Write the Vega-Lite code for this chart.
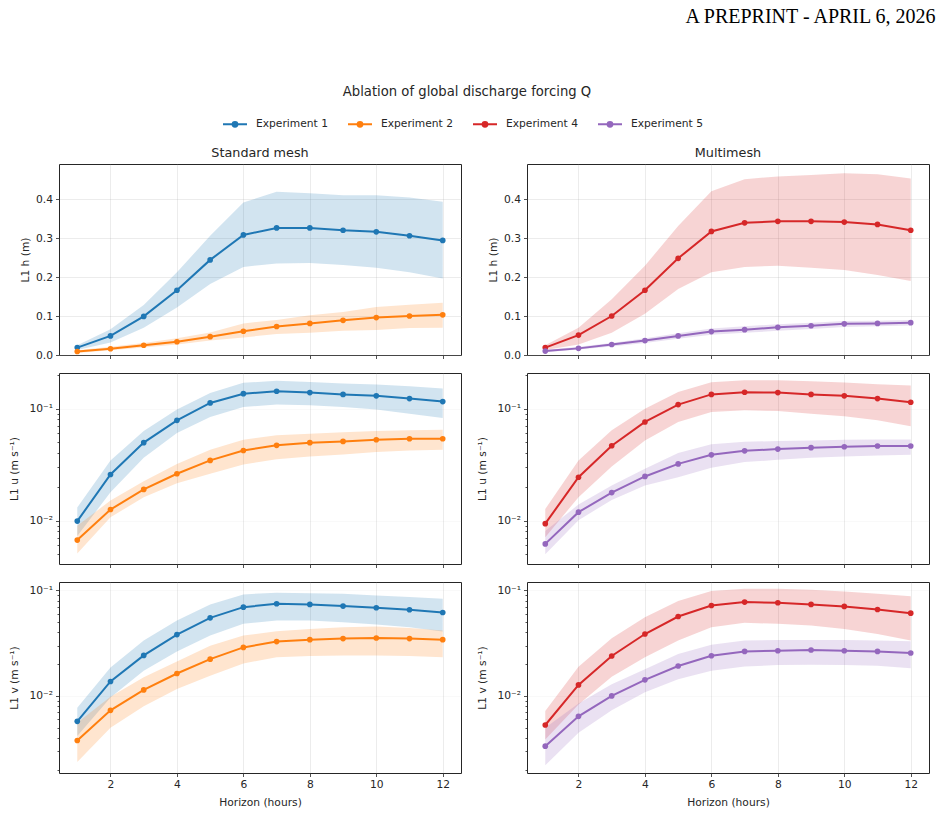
{
  "$schema": "https://vega.github.io/schema/vega-lite/v6.json",
  "padding": {"left": 8, "top": 6, "right": 0, "bottom": 0},
  "datasets": {
    "runs": [
      {"v":"h","exp":"Experiment 1","t":1,"m":0.019,"lo":0.013,"hi":0.025},
      {"v":"h","exp":"Experiment 1","t":2,"m":0.049,"lo":0.032,"hi":0.066},
      {"v":"h","exp":"Experiment 1","t":3,"m":0.099,"lo":0.070,"hi":0.128},
      {"v":"h","exp":"Experiment 1","t":4,"m":0.166,"lo":0.122,"hi":0.212},
      {"v":"h","exp":"Experiment 1","t":5,"m":0.244,"lo":0.182,"hi":0.306},
      {"v":"h","exp":"Experiment 1","t":6,"m":0.308,"lo":0.226,"hi":0.391},
      {"v":"h","exp":"Experiment 1","t":7,"m":0.326,"lo":0.235,"hi":0.419},
      {"v":"h","exp":"Experiment 1","t":8,"m":0.326,"lo":0.236,"hi":0.415},
      {"v":"h","exp":"Experiment 1","t":9,"m":0.320,"lo":0.231,"hi":0.410},
      {"v":"h","exp":"Experiment 1","t":10,"m":0.316,"lo":0.224,"hi":0.410},
      {"v":"h","exp":"Experiment 1","t":11,"m":0.306,"lo":0.212,"hi":0.404},
      {"v":"h","exp":"Experiment 1","t":12,"m":0.294,"lo":0.196,"hi":0.393},
      {"v":"h","exp":"Experiment 2","t":1,"m":0.009,"lo":0.005,"hi":0.012},
      {"v":"h","exp":"Experiment 2","t":2,"m":0.016,"lo":0.012,"hi":0.021},
      {"v":"h","exp":"Experiment 2","t":3,"m":0.025,"lo":0.019,"hi":0.031},
      {"v":"h","exp":"Experiment 2","t":4,"m":0.034,"lo":0.027,"hi":0.043},
      {"v":"h","exp":"Experiment 2","t":5,"m":0.047,"lo":0.037,"hi":0.058},
      {"v":"h","exp":"Experiment 2","t":6,"m":0.061,"lo":0.045,"hi":0.081},
      {"v":"h","exp":"Experiment 2","t":7,"m":0.073,"lo":0.054,"hi":0.090},
      {"v":"h","exp":"Experiment 2","t":8,"m":0.081,"lo":0.057,"hi":0.102},
      {"v":"h","exp":"Experiment 2","t":9,"m":0.089,"lo":0.062,"hi":0.110},
      {"v":"h","exp":"Experiment 2","t":10,"m":0.096,"lo":0.064,"hi":0.123},
      {"v":"h","exp":"Experiment 2","t":11,"m":0.100,"lo":0.069,"hi":0.129},
      {"v":"h","exp":"Experiment 2","t":12,"m":0.103,"lo":0.070,"hi":0.134},
      {"v":"h","exp":"Experiment 4","t":1,"m":0.019,"lo":0.013,"hi":0.025},
      {"v":"h","exp":"Experiment 4","t":2,"m":0.051,"lo":0.027,"hi":0.070},
      {"v":"h","exp":"Experiment 4","t":3,"m":0.100,"lo":0.057,"hi":0.143},
      {"v":"h","exp":"Experiment 4","t":4,"m":0.166,"lo":0.106,"hi":0.229},
      {"v":"h","exp":"Experiment 4","t":5,"m":0.248,"lo":0.169,"hi":0.331},
      {"v":"h","exp":"Experiment 4","t":6,"m":0.317,"lo":0.212,"hi":0.420},
      {"v":"h","exp":"Experiment 4","t":7,"m":0.339,"lo":0.226,"hi":0.451},
      {"v":"h","exp":"Experiment 4","t":8,"m":0.343,"lo":0.229,"hi":0.458},
      {"v":"h","exp":"Experiment 4","t":9,"m":0.343,"lo":0.224,"hi":0.462},
      {"v":"h","exp":"Experiment 4","t":10,"m":0.341,"lo":0.218,"hi":0.466},
      {"v":"h","exp":"Experiment 4","t":11,"m":0.335,"lo":0.205,"hi":0.464},
      {"v":"h","exp":"Experiment 4","t":12,"m":0.320,"lo":0.190,"hi":0.453},
      {"v":"h","exp":"Experiment 5","t":1,"m":0.010,"lo":0.007,"hi":0.013},
      {"v":"h","exp":"Experiment 5","t":2,"m":0.017,"lo":0.014,"hi":0.021},
      {"v":"h","exp":"Experiment 5","t":3,"m":0.027,"lo":0.022,"hi":0.031},
      {"v":"h","exp":"Experiment 5","t":4,"m":0.037,"lo":0.031,"hi":0.043},
      {"v":"h","exp":"Experiment 5","t":5,"m":0.049,"lo":0.042,"hi":0.056},
      {"v":"h","exp":"Experiment 5","t":6,"m":0.060,"lo":0.052,"hi":0.068},
      {"v":"h","exp":"Experiment 5","t":7,"m":0.065,"lo":0.057,"hi":0.074},
      {"v":"h","exp":"Experiment 5","t":8,"m":0.071,"lo":0.062,"hi":0.079},
      {"v":"h","exp":"Experiment 5","t":9,"m":0.075,"lo":0.067,"hi":0.083},
      {"v":"h","exp":"Experiment 5","t":10,"m":0.080,"lo":0.072,"hi":0.087},
      {"v":"h","exp":"Experiment 5","t":11,"m":0.081,"lo":0.074,"hi":0.088},
      {"v":"h","exp":"Experiment 5","t":12,"m":0.083,"lo":0.076,"hi":0.090},
      {"v":"u","exp":"Experiment 1","t":1,"m":0.0099,"lo":0.0073,"hi":0.0131},
      {"v":"u","exp":"Experiment 1","t":2,"m":0.0258,"lo":0.0179,"hi":0.0344},
      {"v":"u","exp":"Experiment 1","t":3,"m":0.0497,"lo":0.0364,"hi":0.063},
      {"v":"u","exp":"Experiment 1","t":4,"m":0.0786,"lo":0.0605,"hi":0.098},
      {"v":"u","exp":"Experiment 1","t":5,"m":0.1124,"lo":0.0842,"hi":0.138},
      {"v":"u","exp":"Experiment 1","t":6,"m":0.136,"lo":0.1035,"hi":0.170},
      {"v":"u","exp":"Experiment 1","t":7,"m":0.143,"lo":0.1086,"hi":0.177},
      {"v":"u","exp":"Experiment 1","t":8,"m":0.139,"lo":0.107,"hi":0.173},
      {"v":"u","exp":"Experiment 1","t":9,"m":0.134,"lo":0.1035,"hi":0.1675},
      {"v":"u","exp":"Experiment 1","t":10,"m":0.130,"lo":0.098,"hi":0.164},
      {"v":"u","exp":"Experiment 1","t":11,"m":0.123,"lo":0.0902,"hi":0.158},
      {"v":"u","exp":"Experiment 1","t":12,"m":0.1156,"lo":0.0824,"hi":0.151},
      {"v":"u","exp":"Experiment 2","t":1,"m":0.0067,"lo":0.0051,"hi":0.009},
      {"v":"u","exp":"Experiment 2","t":2,"m":0.01256,"lo":0.0107,"hi":0.0151},
      {"v":"u","exp":"Experiment 2","t":3,"m":0.019,"lo":0.0162,"hi":0.0225},
      {"v":"u","exp":"Experiment 2","t":4,"m":0.0262,"lo":0.0216,"hi":0.0321},
      {"v":"u","exp":"Experiment 2","t":5,"m":0.0345,"lo":0.0262,"hi":0.043},
      {"v":"u","exp":"Experiment 2","t":6,"m":0.0423,"lo":0.0317,"hi":0.0527},
      {"v":"u","exp":"Experiment 2","t":7,"m":0.047,"lo":0.0354,"hi":0.0577},
      {"v":"u","exp":"Experiment 2","t":8,"m":0.0497,"lo":0.0374,"hi":0.0597},
      {"v":"u","exp":"Experiment 2","t":9,"m":0.051,"lo":0.039,"hi":0.0614},
      {"v":"u","exp":"Experiment 2","t":10,"m":0.0527,"lo":0.041,"hi":0.063},
      {"v":"u","exp":"Experiment 2","t":11,"m":0.0538,"lo":0.0423,"hi":0.064},
      {"v":"u","exp":"Experiment 2","t":12,"m":0.0538,"lo":0.043,"hi":0.0648},
      {"v":"u","exp":"Experiment 4","t":1,"m":0.0094,"lo":0.0071,"hi":0.0127},
      {"v":"u","exp":"Experiment 4","t":2,"m":0.0244,"lo":0.0162,"hi":0.0344},
      {"v":"u","exp":"Experiment 4","t":3,"m":0.0466,"lo":0.0305,"hi":0.064},
      {"v":"u","exp":"Experiment 4","t":4,"m":0.076,"lo":0.052,"hi":0.100},
      {"v":"u","exp":"Experiment 4","t":5,"m":0.1086,"lo":0.076,"hi":0.141},
      {"v":"u","exp":"Experiment 4","t":6,"m":0.134,"lo":0.0934,"hi":0.172},
      {"v":"u","exp":"Experiment 4","t":7,"m":0.140,"lo":0.0966,"hi":0.179},
      {"v":"u","exp":"Experiment 4","t":8,"m":0.139,"lo":0.0953,"hi":0.179},
      {"v":"u","exp":"Experiment 4","t":9,"m":0.134,"lo":0.0902,"hi":0.176},
      {"v":"u","exp":"Experiment 4","t":10,"m":0.130,"lo":0.0854,"hi":0.171},
      {"v":"u","exp":"Experiment 4","t":11,"m":0.123,"lo":0.0786,"hi":0.165},
      {"v":"u","exp":"Experiment 4","t":12,"m":0.114,"lo":0.0695,"hi":0.161},
      {"v":"u","exp":"Experiment 5","t":1,"m":0.0062,"lo":0.005,"hi":0.0081},
      {"v":"u","exp":"Experiment 5","t":2,"m":0.0119,"lo":0.0101,"hi":0.0139},
      {"v":"u","exp":"Experiment 5","t":3,"m":0.0178,"lo":0.0153,"hi":0.0206},
      {"v":"u","exp":"Experiment 5","t":4,"m":0.0248,"lo":0.0206,"hi":0.029},
      {"v":"u","exp":"Experiment 5","t":5,"m":0.0321,"lo":0.0244,"hi":0.0401},
      {"v":"u","exp":"Experiment 5","t":6,"m":0.0387,"lo":0.0297,"hi":0.048},
      {"v":"u","exp":"Experiment 5","t":7,"m":0.042,"lo":0.0333,"hi":0.0506},
      {"v":"u","exp":"Experiment 5","t":8,"m":0.0435,"lo":0.0349,"hi":0.0513},
      {"v":"u","exp":"Experiment 5","t":9,"m":0.0448,"lo":0.0364,"hi":0.052},
      {"v":"u","exp":"Experiment 5","t":10,"m":0.0457,"lo":0.0374,"hi":0.0527},
      {"v":"u","exp":"Experiment 5","t":11,"m":0.0464,"lo":0.0382,"hi":0.0531},
      {"v":"u","exp":"Experiment 5","t":12,"m":0.0464,"lo":0.0387,"hi":0.0531},
      {"v":"v","exp":"Experiment 1","t":1,"m":0.00574,"lo":0.00416,"hi":0.00774},
      {"v":"v","exp":"Experiment 1","t":2,"m":0.0137,"lo":0.00964,"hi":0.0186},
      {"v":"v","exp":"Experiment 1","t":3,"m":0.0242,"lo":0.0173,"hi":0.0334},
      {"v":"v","exp":"Experiment 1","t":4,"m":0.0381,"lo":0.0264,"hi":0.0518},
      {"v":"v","exp":"Experiment 1","t":5,"m":0.0549,"lo":0.0373,"hi":0.0736},
      {"v":"v","exp":"Experiment 1","t":6,"m":0.0693,"lo":0.0482,"hi":0.0916},
      {"v":"v","exp":"Experiment 1","t":7,"m":0.0746,"lo":0.0518,"hi":0.095},
      {"v":"v","exp":"Experiment 1","t":8,"m":0.0736,"lo":0.0518,"hi":0.094},
      {"v":"v","exp":"Experiment 1","t":9,"m":0.071,"lo":0.0499,"hi":0.093},
      {"v":"v","exp":"Experiment 1","t":10,"m":0.0684,"lo":0.0474,"hi":0.0896},
      {"v":"v","exp":"Experiment 1","t":11,"m":0.0655,"lo":0.0448,"hi":0.0864},
      {"v":"v","exp":"Experiment 1","t":12,"m":0.0617,"lo":0.0407,"hi":0.0833},
      {"v":"v","exp":"Experiment 2","t":1,"m":0.00378,"lo":0.00237,"hi":0.00557},
      {"v":"v","exp":"Experiment 2","t":2,"m":0.0073,"lo":0.005,"hi":0.0098},
      {"v":"v","exp":"Experiment 2","t":3,"m":0.0114,"lo":0.008,"hi":0.015},
      {"v":"v","exp":"Experiment 2","t":4,"m":0.0163,"lo":0.0116,"hi":0.0212},
      {"v":"v","exp":"Experiment 2","t":5,"m":0.0223,"lo":0.0155,"hi":0.0299},
      {"v":"v","exp":"Experiment 2","t":6,"m":0.0288,"lo":0.0203,"hi":0.0373},
      {"v":"v","exp":"Experiment 2","t":7,"m":0.0327,"lo":0.0232,"hi":0.041},
      {"v":"v","exp":"Experiment 2","t":8,"m":0.0341,"lo":0.0239,"hi":0.0431},
      {"v":"v","exp":"Experiment 2","t":9,"m":0.0349,"lo":0.0242,"hi":0.0448},
      {"v":"v","exp":"Experiment 2","t":10,"m":0.0354,"lo":0.0242,"hi":0.0454},
      {"v":"v","exp":"Experiment 2","t":11,"m":0.0349,"lo":0.0239,"hi":0.0441},
      {"v":"v","exp":"Experiment 2","t":12,"m":0.0341,"lo":0.0232,"hi":0.0416},
      {"v":"v","exp":"Experiment 4","t":1,"m":0.0053,"lo":0.00386,"hi":0.0072},
      {"v":"v","exp":"Experiment 4","t":2,"m":0.0127,"lo":0.0083,"hi":0.0189},
      {"v":"v","exp":"Experiment 4","t":3,"m":0.0239,"lo":0.0152,"hi":0.0351},
      {"v":"v","exp":"Experiment 4","t":4,"m":0.0386,"lo":0.0232,"hi":0.0557},
      {"v":"v","exp":"Experiment 4","t":5,"m":0.0565,"lo":0.0334,"hi":0.0791},
      {"v":"v","exp":"Experiment 4","t":6,"m":0.0719,"lo":0.0448,"hi":0.0985},
      {"v":"v","exp":"Experiment 4","t":7,"m":0.0774,"lo":0.0492,"hi":0.1037},
      {"v":"v","exp":"Experiment 4","t":8,"m":0.0763,"lo":0.0482,"hi":0.1037},
      {"v":"v","exp":"Experiment 4","t":9,"m":0.0736,"lo":0.0465,"hi":0.1015},
      {"v":"v","exp":"Experiment 4","t":10,"m":0.0705,"lo":0.0431,"hi":0.0978},
      {"v":"v","exp":"Experiment 4","t":11,"m":0.0659,"lo":0.0386,"hi":0.093},
      {"v":"v","exp":"Experiment 4","t":12,"m":0.0608,"lo":0.0334,"hi":0.0877},
      {"v":"v","exp":"Experiment 5","t":1,"m":0.00334,"lo":0.0022,"hi":0.005},
      {"v":"v","exp":"Experiment 5","t":2,"m":0.0064,"lo":0.00448,"hi":0.00845},
      {"v":"v","exp":"Experiment 5","t":3,"m":0.0100,"lo":0.0073,"hi":0.0129},
      {"v":"v","exp":"Experiment 5","t":4,"m":0.0142,"lo":0.0108,"hi":0.0179},
      {"v":"v","exp":"Experiment 5","t":5,"m":0.0192,"lo":0.0144,"hi":0.0249},
      {"v":"v","exp":"Experiment 5","t":6,"m":0.024,"lo":0.0173,"hi":0.0306},
      {"v":"v","exp":"Experiment 5","t":7,"m":0.0264,"lo":0.019,"hi":0.0334},
      {"v":"v","exp":"Experiment 5","t":8,"m":0.0268,"lo":0.0196,"hi":0.0339},
      {"v":"v","exp":"Experiment 5","t":9,"m":0.0272,"lo":0.0197,"hi":0.0339},
      {"v":"v","exp":"Experiment 5","t":10,"m":0.0268,"lo":0.0196,"hi":0.0339},
      {"v":"v","exp":"Experiment 5","t":11,"m":0.0264,"lo":0.0193,"hi":0.0334},
      {"v":"v","exp":"Experiment 5","t":12,"m":0.0255,"lo":0.0183,"hi":0.0329}
    ]
  },
  "data": {"name": "runs"},
  "title": {
    "text": "A PREPRINT - APRIL 6, 2026",
    "anchor": "end", "frame": "bounds",
    "font": "Liberation Serif", "fontSize": 20, "color": "#000000",
    "dx": 6, "offset": 58
  },
  "resolve": {"legend": {"color": "independent"}},
  "vconcat": [
    {
      "title": {
        "text": "Ablation of global discharge forcing Q",
        "anchor": "middle", "frame": "bounds", "fontSize": 13.2, "dx": -2, "offset": 12
      },
      "columns": 2,
      "spacing": {"row": 18, "column": 66},
      "bounds": "flush",
      "concat": [
        {
          "width": 402, "height": 191,
          "title": {"text": "Standard mesh", "offset": 4},
          "transform": [{"filter": {"and": [{"field": "v", "equal": "h"}, {"field": "exp", "oneOf": ["Experiment 1", "Experiment 2"]}]}}],
          "encoding": {
            "x": {"field": "t", "type": "quantitative", "scale": {"domain": [0.45, 12.55], "nice": false, "zero": false}, "axis": {"values": [2,4,6,8,10,12], "labels": false, "title": null}},
            "color": {"field": "exp", "type": "nominal", "scale": {"domain": ["Experiment 1","Experiment 2","Experiment 4","Experiment 5"], "range": ["#1f77b4","#ff7f0e","#d62728","#9467bd"]}, "legend": {"title": null, "orient": "none", "direction": "horizontal", "legendX": 163, "legendY": -53, "symbolType": "M-1,0L1,0M-0.2,0A0.2,0.2 0 1,1 0.2,0A0.2,0.2 0 1,1 -0.2,0M-0.08,0A0.08,0.08 0 1,1 0.08,0A0.08,0.08 0 1,1 -0.08,0", "symbolSize": 576, "symbolStrokeWidth": 2, "symbolOpacity": 1, "labelOffset": 8, "columnPadding": 16}}
          },
          "layer": [
            {"mark": {"type": "area", "opacity": 0.2}, "encoding": {"y": {"field": "lo", "type": "quantitative", "title": "L1 h (m)", "scale": {"domain": [0, 0.49], "nice": false, "zero": false}, "axis": {"title": "L1 h (m)", "values": [0,0.1,0.2,0.3,0.4], "format": ".1f"}}, "y2": {"field": "hi"}}},
            {"mark": {"type": "line", "strokeWidth": 2}, "encoding": {"y": {"field": "m", "type": "quantitative", "title": "L1 h (m)"}}},
            {"mark": {"type": "point", "filled": true, "size": 32, "opacity": 1}, "encoding": {"y": {"field": "m", "type": "quantitative", "title": "L1 h (m)"}}}
          ]
        },
        {
          "width": 402, "height": 191,
          "title": {"text": "Multimesh", "offset": 4},
          "transform": [{"filter": {"and": [{"field": "v", "equal": "h"}, {"field": "exp", "oneOf": ["Experiment 4", "Experiment 5"]}]}}],
          "encoding": {
            "x": {"field": "t", "type": "quantitative", "scale": {"domain": [0.45, 12.55], "nice": false, "zero": false}, "axis": {"values": [2,4,6,8,10,12], "labels": false, "title": null}},
            "color": {"field": "exp", "type": "nominal", "scale": {"domain": ["Experiment 1","Experiment 2","Experiment 4","Experiment 5"], "range": ["#1f77b4","#ff7f0e","#d62728","#9467bd"]}, "legend": {"title": null, "orient": "none", "direction": "horizontal", "legendX": 163, "legendY": -53, "symbolType": "M-1,0L1,0M-0.2,0A0.2,0.2 0 1,1 0.2,0A0.2,0.2 0 1,1 -0.2,0M-0.08,0A0.08,0.08 0 1,1 0.08,0A0.08,0.08 0 1,1 -0.08,0", "symbolSize": 576, "symbolStrokeWidth": 2, "symbolOpacity": 1, "labelOffset": 8, "columnPadding": 16}}
          },
          "layer": [
            {"mark": {"type": "area", "opacity": 0.2}, "encoding": {"y": {"field": "lo", "type": "quantitative", "title": "L1 h (m)", "scale": {"domain": [0, 0.49], "nice": false, "zero": false}, "axis": {"title": "L1 h (m)", "values": [0,0.1,0.2,0.3,0.4], "format": ".1f"}}, "y2": {"field": "hi"}}},
            {"mark": {"type": "line", "strokeWidth": 2}, "encoding": {"y": {"field": "m", "type": "quantitative", "title": "L1 h (m)"}}},
            {"mark": {"type": "point", "filled": true, "size": 32, "opacity": 1}, "encoding": {"y": {"field": "m", "type": "quantitative", "title": "L1 h (m)"}}}
          ]
        },
        {
          "width": 402, "height": 191,
          "transform": [{"filter": {"and": [{"field": "v", "equal": "u"}, {"field": "exp", "oneOf": ["Experiment 1", "Experiment 2"]}]}}],
          "encoding": {
            "x": {"field": "t", "type": "quantitative", "scale": {"domain": [0.45, 12.55], "nice": false, "zero": false}, "axis": {"values": [2,4,6,8,10,12], "labels": false, "title": null}},
            "color": {"field": "exp", "type": "nominal", "scale": {"domain": ["Experiment 1","Experiment 2","Experiment 4","Experiment 5"], "range": ["#1f77b4","#ff7f0e","#d62728","#9467bd"]}, "legend": {"title": null, "orient": "none", "direction": "horizontal", "legendX": 163, "legendY": -53, "symbolType": "M-1,0L1,0M-0.2,0A0.2,0.2 0 1,1 0.2,0A0.2,0.2 0 1,1 -0.2,0M-0.08,0A0.08,0.08 0 1,1 0.08,0A0.08,0.08 0 1,1 -0.08,0", "symbolSize": 576, "symbolStrokeWidth": 2, "symbolOpacity": 1, "labelOffset": 8, "columnPadding": 16}}
          },
          "layer": [
            {"mark": {"type": "area", "opacity": 0.2}, "encoding": {"y": {"field": "lo", "type": "quantitative", "title": "L1 u (m s⁻¹)", "scale": {"type": "log", "domain": [0.0041, 0.208], "nice": false}, "axis": {"title": "L1 u (m s⁻¹)", "titlePadding": 9, "values": [0.005,0.006,0.007,0.008,0.009,0.01,0.02,0.03,0.04,0.05,0.06,0.07,0.08,0.09,0.1,0.2], "labelExpr": "datum.value == 0.1 ? '10⁻¹' : datum.value == 0.01 ? '10⁻²' : ''", "tickSize": {"condition": {"test": "datum.value == 0.1 || datum.value == 0.01", "value": 3.5}, "value": 2}, "gridOpacity": {"condition": {"test": "datum.value == 0.1 || datum.value == 0.01", "value": 0.3}, "value": 0}}}, "y2": {"field": "hi"}}},
            {"mark": {"type": "line", "strokeWidth": 2}, "encoding": {"y": {"field": "m", "type": "quantitative", "title": "L1 u (m s⁻¹)"}}},
            {"mark": {"type": "point", "filled": true, "size": 32, "opacity": 1}, "encoding": {"y": {"field": "m", "type": "quantitative", "title": "L1 u (m s⁻¹)"}}}
          ]
        },
        {
          "width": 402, "height": 191,
          "transform": [{"filter": {"and": [{"field": "v", "equal": "u"}, {"field": "exp", "oneOf": ["Experiment 4", "Experiment 5"]}]}}],
          "encoding": {
            "x": {"field": "t", "type": "quantitative", "scale": {"domain": [0.45, 12.55], "nice": false, "zero": false}, "axis": {"values": [2,4,6,8,10,12], "labels": false, "title": null}},
            "color": {"field": "exp", "type": "nominal", "scale": {"domain": ["Experiment 1","Experiment 2","Experiment 4","Experiment 5"], "range": ["#1f77b4","#ff7f0e","#d62728","#9467bd"]}, "legend": {"title": null, "orient": "none", "direction": "horizontal", "legendX": 163, "legendY": -53, "symbolType": "M-1,0L1,0M-0.2,0A0.2,0.2 0 1,1 0.2,0A0.2,0.2 0 1,1 -0.2,0M-0.08,0A0.08,0.08 0 1,1 0.08,0A0.08,0.08 0 1,1 -0.08,0", "symbolSize": 576, "symbolStrokeWidth": 2, "symbolOpacity": 1, "labelOffset": 8, "columnPadding": 16}}
          },
          "layer": [
            {"mark": {"type": "area", "opacity": 0.2}, "encoding": {"y": {"field": "lo", "type": "quantitative", "title": "L1 u (m s⁻¹)", "scale": {"type": "log", "domain": [0.0041, 0.208], "nice": false}, "axis": {"title": "L1 u (m s⁻¹)", "titlePadding": 9, "values": [0.005,0.006,0.007,0.008,0.009,0.01,0.02,0.03,0.04,0.05,0.06,0.07,0.08,0.09,0.1,0.2], "labelExpr": "datum.value == 0.1 ? '10⁻¹' : datum.value == 0.01 ? '10⁻²' : ''", "tickSize": {"condition": {"test": "datum.value == 0.1 || datum.value == 0.01", "value": 3.5}, "value": 2}, "gridOpacity": {"condition": {"test": "datum.value == 0.1 || datum.value == 0.01", "value": 0.3}, "value": 0}}}, "y2": {"field": "hi"}}},
            {"mark": {"type": "line", "strokeWidth": 2}, "encoding": {"y": {"field": "m", "type": "quantitative", "title": "L1 u (m s⁻¹)"}}},
            {"mark": {"type": "point", "filled": true, "size": 32, "opacity": 1}, "encoding": {"y": {"field": "m", "type": "quantitative", "title": "L1 u (m s⁻¹)"}}}
          ]
        },
        {
          "width": 402, "height": 191,
          "transform": [{"filter": {"and": [{"field": "v", "equal": "v"}, {"field": "exp", "oneOf": ["Experiment 1", "Experiment 2"]}]}}],
          "encoding": {
            "x": {"field": "t", "type": "quantitative", "scale": {"domain": [0.45, 12.55], "nice": false, "zero": false}, "axis": {"values": [2,4,6,8,10,12], "title": "Horizon (hours)", "titlePadding": 8}},
            "color": {"field": "exp", "type": "nominal", "scale": {"domain": ["Experiment 1","Experiment 2","Experiment 4","Experiment 5"], "range": ["#1f77b4","#ff7f0e","#d62728","#9467bd"]}, "legend": {"title": null, "orient": "none", "direction": "horizontal", "legendX": 163, "legendY": -53, "symbolType": "M-1,0L1,0M-0.2,0A0.2,0.2 0 1,1 0.2,0A0.2,0.2 0 1,1 -0.2,0M-0.08,0A0.08,0.08 0 1,1 0.08,0A0.08,0.08 0 1,1 -0.08,0", "symbolSize": 576, "symbolStrokeWidth": 2, "symbolOpacity": 1, "labelOffset": 8, "columnPadding": 16}}
          },
          "layer": [
            {"mark": {"type": "area", "opacity": 0.2}, "encoding": {"y": {"field": "lo", "type": "quantitative", "title": "L1 v (m s⁻¹)", "scale": {"type": "log", "domain": [0.00186, 0.12], "nice": false}, "axis": {"title": "L1 v (m s⁻¹)", "titlePadding": 9, "values": [0.002,0.003,0.004,0.005,0.006,0.007,0.008,0.009,0.01,0.02,0.03,0.04,0.05,0.06,0.07,0.08,0.09,0.1], "labelExpr": "datum.value == 0.1 ? '10⁻¹' : datum.value == 0.01 ? '10⁻²' : ''", "tickSize": {"condition": {"test": "datum.value == 0.1 || datum.value == 0.01", "value": 3.5}, "value": 2}, "gridOpacity": {"condition": {"test": "datum.value == 0.1 || datum.value == 0.01", "value": 0.3}, "value": 0}}}, "y2": {"field": "hi"}}},
            {"mark": {"type": "line", "strokeWidth": 2}, "encoding": {"y": {"field": "m", "type": "quantitative", "title": "L1 v (m s⁻¹)"}}},
            {"mark": {"type": "point", "filled": true, "size": 32, "opacity": 1}, "encoding": {"y": {"field": "m", "type": "quantitative", "title": "L1 v (m s⁻¹)"}}}
          ]
        },
        {
          "width": 402, "height": 191,
          "transform": [{"filter": {"and": [{"field": "v", "equal": "v"}, {"field": "exp", "oneOf": ["Experiment 4", "Experiment 5"]}]}}],
          "encoding": {
            "x": {"field": "t", "type": "quantitative", "scale": {"domain": [0.45, 12.55], "nice": false, "zero": false}, "axis": {"values": [2,4,6,8,10,12], "title": "Horizon (hours)", "titlePadding": 8}},
            "color": {"field": "exp", "type": "nominal", "scale": {"domain": ["Experiment 1","Experiment 2","Experiment 4","Experiment 5"], "range": ["#1f77b4","#ff7f0e","#d62728","#9467bd"]}, "legend": {"title": null, "orient": "none", "direction": "horizontal", "legendX": 163, "legendY": -53, "symbolType": "M-1,0L1,0M-0.2,0A0.2,0.2 0 1,1 0.2,0A0.2,0.2 0 1,1 -0.2,0M-0.08,0A0.08,0.08 0 1,1 0.08,0A0.08,0.08 0 1,1 -0.08,0", "symbolSize": 576, "symbolStrokeWidth": 2, "symbolOpacity": 1, "labelOffset": 8, "columnPadding": 16}}
          },
          "layer": [
            {"mark": {"type": "area", "opacity": 0.2}, "encoding": {"y": {"field": "lo", "type": "quantitative", "title": "L1 v (m s⁻¹)", "scale": {"type": "log", "domain": [0.00186, 0.12], "nice": false}, "axis": {"title": "L1 v (m s⁻¹)", "titlePadding": 9, "values": [0.002,0.003,0.004,0.005,0.006,0.007,0.008,0.009,0.01,0.02,0.03,0.04,0.05,0.06,0.07,0.08,0.09,0.1], "labelExpr": "datum.value == 0.1 ? '10⁻¹' : datum.value == 0.01 ? '10⁻²' : ''", "tickSize": {"condition": {"test": "datum.value == 0.1 || datum.value == 0.01", "value": 3.5}, "value": 2}, "gridOpacity": {"condition": {"test": "datum.value == 0.1 || datum.value == 0.01", "value": 0.3}, "value": 0}}}, "y2": {"field": "hi"}}},
            {"mark": {"type": "line", "strokeWidth": 2}, "encoding": {"y": {"field": "m", "type": "quantitative", "title": "L1 v (m s⁻¹)"}}},
            {"mark": {"type": "point", "filled": true, "size": 32, "opacity": 1}, "encoding": {"y": {"field": "m", "type": "quantitative", "title": "L1 v (m s⁻¹)"}}}
          ]
        }
      ]
    }
  ],
  "config": {
    "font": "DejaVu Sans",
    "view": {"stroke": "#262626", "strokeWidth": 1},
    "axis": {
      "domain": false,
      "tickColor": "#262626", "tickSize": 3.5, "tickWidth": 0.8,
      "labelColor": "#262626", "labelFont": "DejaVu Sans", "labelFontSize": 10.7, "labelPadding": 3,
      "labelFlush": false, "labelOverlap": false,
      "titleFont": "DejaVu Sans", "titleFontSize": 10.7, "titleFontWeight": "normal", "titleColor": "#262626", "titlePadding": 5,
      "gridColor": "#b0b0b0", "gridOpacity": 0.3, "gridWidth": 0.8
    },
    "title": {"font": "DejaVu Sans", "fontSize": 12.8, "fontWeight": "normal", "color": "#262626"},
    "legend": {"labelFont": "DejaVu Sans", "labelFontSize": 10.7, "labelColor": "#262626"}
  }
}
